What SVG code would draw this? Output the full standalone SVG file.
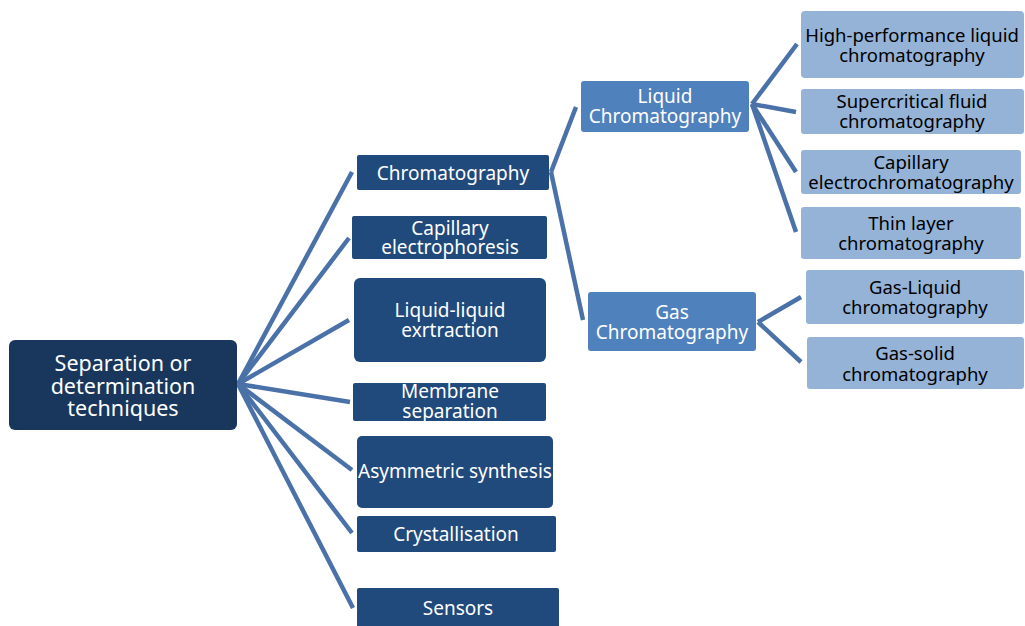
<svg xmlns="http://www.w3.org/2000/svg" width="1025" height="626" viewBox="0 0 1025 626">
<style>
text{font-family:"Noto Sans","Open Sans","DejaVu Sans",sans-serif;text-anchor:middle;dominant-baseline:central}
.root rect{fill:#19375c}
.root text{fill:#fff;font-size:21.5px}
.l1 rect{fill:#214a7c}
.l1 text{fill:#fff;font-size:19px}
.l2 rect{fill:#4f81bd}
.l2 text{fill:#fff;font-size:19px}
.l3 rect{fill:#95b3d7}
.l3 text{fill:#000;font-size:18.5px}
#connectors line{stroke:#4a71a8;stroke-width:4.5;stroke-linecap:butt}
</style>
<rect width="1025" height="626" fill="#fff"/>
<g id="connectors">
<line x1="238" y1="384" x2="352" y2="172"/>
<line x1="238" y1="384" x2="349" y2="238"/>
<line x1="238" y1="384" x2="349" y2="320"/>
<line x1="238" y1="384" x2="350" y2="402"/>
<line x1="238" y1="384" x2="352" y2="470"/>
<line x1="238" y1="384" x2="352" y2="533"/>
<line x1="238" y1="384" x2="353" y2="608"/>
<line x1="551" y1="172" x2="576" y2="107"/>
<line x1="551" y1="172" x2="583" y2="320"/>
<line x1="752" y1="104" x2="797" y2="44"/>
<line x1="752" y1="104" x2="796" y2="112"/>
<line x1="752" y1="104" x2="796" y2="172"/>
<line x1="752" y1="104" x2="796" y2="232"/>
<line x1="758" y1="322" x2="801" y2="297"/>
<line x1="758" y1="322" x2="801" y2="362"/>
</g>
<g id="n-root" class="root"><rect x="9" y="340" width="228" height="90" rx="6"/><text x="123" y="362">Separation or</text><text x="123" y="385">determination</text><text x="123" y="407">techniques</text></g>
<g id="n-chrom" class="l1"><rect x="357" y="155" width="192" height="35" rx="2"/><text x="453" y="173">Chromatography</text></g>
<g id="n-ce" class="l1"><rect x="352" y="216" width="195" height="43" rx="2"/><text x="450" y="228">Capillary</text><text x="450" y="247">electrophoresis</text></g>
<g id="n-lle" class="l1"><rect x="354" y="278" width="192" height="84" rx="6"/><text x="450" y="310">Liquid-liquid</text><text x="450" y="330">exrtraction</text></g>
<g id="n-mem" class="l1"><rect x="353" y="383" width="193" height="38" rx="2"/><text x="450" y="391">Membrane</text><text x="450" y="411">separation</text></g>
<g id="n-asym" class="l1"><rect x="357" y="436" width="196" height="72" rx="5"/><text x="455" y="471">Asymmetric synthesis</text></g>
<g id="n-cryst" class="l1"><rect x="357" y="516" width="199" height="36" rx="2"/><text x="456" y="534">Crystallisation</text></g>
<g id="n-sens" class="l1"><rect x="357" y="588" width="202" height="44" rx="2"/><text x="458" y="608">Sensors</text></g>
<g id="n-lc" class="l2"><rect x="581" y="81" width="168" height="51" rx="3"/><text x="665" y="96">Liquid</text><text x="665" y="116">Chromatography</text></g>
<g id="n-gc" class="l2"><rect x="588" y="292" width="168" height="59" rx="3"/><text x="672" y="312">Gas</text><text x="672" y="332">Chromatography</text></g>
<g id="n-hplc" class="l3"><rect x="801" y="11" width="223" height="67" rx="4"/><text x="912" y="34">High-performance liquid</text><text x="912" y="54">chromatography</text></g>
<g id="n-sfc" class="l3"><rect x="801" y="89" width="223" height="45" rx="3"/><text x="912" y="100">Supercritical fluid</text><text x="912" y="120">chromatography</text></g>
<g id="n-cec" class="l3"><rect x="801" y="150" width="220" height="44" rx="3"/><text x="911" y="161">Capillary</text><text x="911" y="181">electrochromatography</text></g>
<g id="n-tlc" class="l3"><rect x="801" y="207" width="220" height="52" rx="3"/><text x="911" y="222">Thin layer</text><text x="911" y="242">chromatography</text></g>
<g id="n-glc" class="l3"><rect x="806" y="270" width="218" height="54" rx="3"/><text x="915" y="286">Gas-Liquid</text><text x="915" y="306">chromatography</text></g>
<g id="n-gsc" class="l3"><rect x="807" y="337" width="217" height="52" rx="3"/><text x="915" y="352">Gas-solid</text><text x="915" y="373">chromatography</text></g>
</svg>
